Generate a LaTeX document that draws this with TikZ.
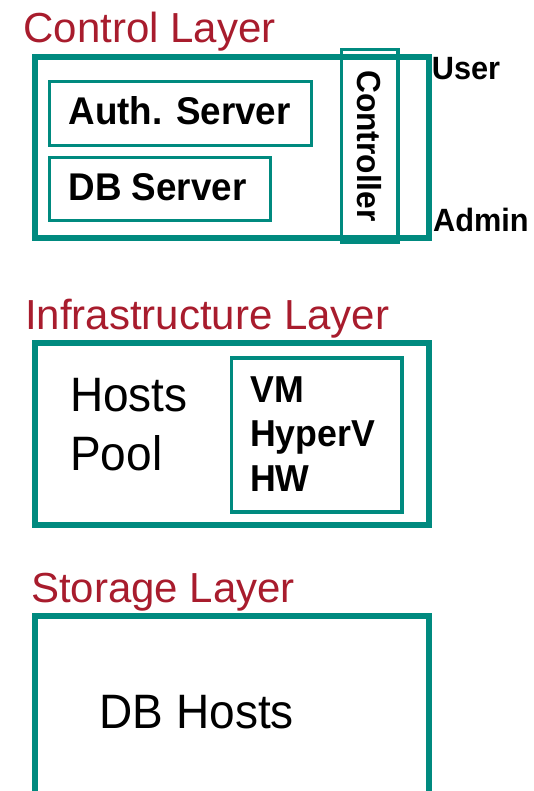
\documentclass[tikz,border=0pt]{standalone}
\usepackage{fontspec}
\setmainfont{Liberation Sans}
\definecolor{teal1}{RGB}{0,138,127}
\definecolor{redt}{RGB}{168,28,45}
\newcommand{\tallt}[1]{\scalebox{1}[1.05]{#1}}
\begin{document}
\begin{tikzpicture}[x=1pt,y=-1pt,
  outerbox/.style={draw=teal1,line width=6pt,inner sep=0pt,anchor=north west},
  innerbox/.style={draw=teal1,line width=3.2pt,inner sep=0pt,anchor=north west},
  title/.style={anchor=base west,inner sep=0pt,text=redt,font=\fontsize{42}{50}\selectfont},
  boldlbl/.style={anchor=base west,inner sep=0pt,font=\bfseries\fontsize{36.8}{44}\selectfont},
  vmlbl/.style={anchor=base west,inner sep=0pt,font=\bfseries\fontsize{35.7}{44}\selectfont},
  sidelbl/.style={anchor=base west,inner sep=0pt,font=\bfseries\fontsize{30.7}{36}\selectfont},
  plainlbl/.style={anchor=base west,inner sep=0pt,font=\fontsize{46}{58}\selectfont}]
\useasboundingbox (0,0) rectangle (533,791);
\clip (0,0) rectangle (533,791);
% Control layer
\node[title] (tctrl) at (23.3,42.7) {Control Layer};
\node[outerbox,minimum width=394pt,minimum height=181.6pt] (ctrl) at (32.3,53.7) {};
\node[innerbox,minimum width=261.7pt,minimum height=64.3pt] (auth) at (48,80) {};
\node[boldlbl] (authl) at (68.3,125) {\tallt{Auth. Server}};
\node[innerbox,minimum width=220.7pt,minimum height=63.6pt] (dbs) at (48,155.7) {};
\node[boldlbl] (dbsl) at (68.3,200.5) {\tallt{DB Server}};
\node[innerbox,minimum width=56.8pt,minimum height=193.3pt] (contr) at (339.5,47.7) {};
\node[rotate=-90,inner sep=0pt,font=\bfseries\fontsize{31.7}{38}\selectfont] (contrl) at (contr.center) {\tallt{Controller}};
\node[sidelbl] (user) at (431.7,80) {\tallt{User}};
\node[sidelbl] (admin) at (433,231.7) {\tallt{Admin}};
% Infrastructure layer
\node[title] (tinfra) at (25,329.7) {Infrastructure Layer};
\node[outerbox,minimum width=394pt,minimum height=181.7pt] (infra) at (32.3,340.3) {};
\node[innerbox,minimum width=170.8pt,minimum height=154pt] (vmbox) at (229.5,356.3) {};
\node[plainlbl] (hosts) at (70,411.7) {\tallt{Hosts}};
\node[plainlbl] (pool) at (70,470) {\tallt{Pool}};
\node[vmlbl] (vm) at (250,402.3) {\tallt{VM}};
\node[vmlbl] (hyperv) at (250,446.7) {\tallt{HyperV}};
\node[vmlbl] (hw) at (250,491) {\tallt{HW}};
% Storage layer
\node[title] (tstor) at (31,602.7) {Storage Layer};
\node[outerbox,minimum width=394pt,minimum height=200pt] (stor) at (32.3,612.7) {};
\node[plainlbl] (dbh) at (99.5,728.3) {\tallt{DB Hosts}};
\end{tikzpicture}
\end{document}
